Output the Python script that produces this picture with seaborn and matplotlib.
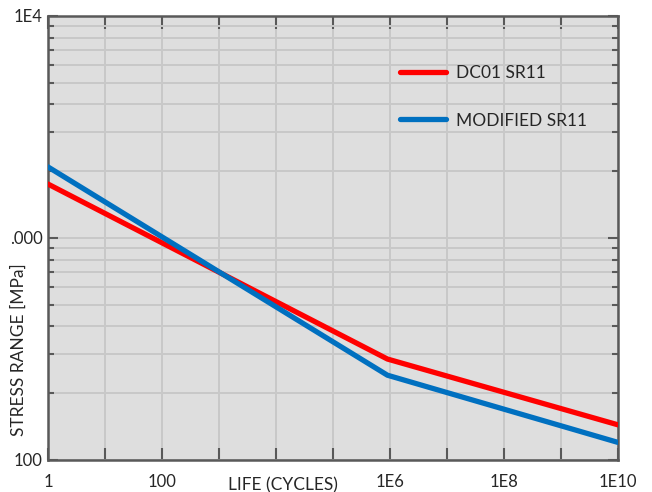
import matplotlib
matplotlib.use("Agg")
import matplotlib.pyplot as plt
import seaborn as sns
import pandas as pd
from matplotlib.ticker import FixedLocator, NullFormatter

# ---- data ----
series_names = ["DC01 SR11", "MODIFIED SR11"]
dc01_life = [1, 9e5, 1e10]
dc01_stress = [1750, 285, 144]
mod_life = [1, 9e5, 1e10]
mod_stress = [2090, 241, 120]

x_ticks = [1, 10, 100, 1e3, 1e4, 1e5, 1e6, 1e7, 1e8, 1e9, 1e10]
x_tick_labels = ["1", "", "100", "", "", "", "1E6", "", "1E8", "", "1E10"]
y_ticks = [100, 1000, 10000]
y_tick_labels = ["100", ".000", "1E4"]
y_minor = [200, 300, 400, 500, 600, 700, 800, 900,
           2000, 3000, 4000, 5000, 6000, 7000, 8000, 9000]

df = pd.DataFrame({
    "life": dc01_life + mod_life,
    "stress": dc01_stress + mod_stress,
    "series": [series_names[0]] * len(dc01_life) + [series_names[1]] * len(mod_life),
})

sns.set_theme(style="white")
plt.rcParams["font.family"] = ["Lato", "DejaVu Sans"]

fig = plt.figure(figsize=(6.52, 4.92), dpi=100)
ax = fig.add_axes([48 / 652, 32 / 492, 570 / 652, 444 / 492])
bg = "#dedede"
ax.set_facecolor(bg)

sns.lineplot(data=df, x="life", y="stress", hue="series",
             palette={series_names[0]: "#ff0000", series_names[1]: "#0070c0"},
             linewidth=3.8, ax=ax, sort=False, zorder=3)

ax.set_xscale("log")
ax.set_yscale("log")
ax.set_xlim(1, 1e10)
ax.set_ylim(100, 1e4)

ax.xaxis.set_major_locator(FixedLocator(x_ticks))
ax.set_xticklabels(x_tick_labels)
ax.xaxis.set_minor_locator(FixedLocator([]))
ax.yaxis.set_major_locator(FixedLocator(y_ticks))
ax.set_yticklabels(y_tick_labels)
ax.yaxis.set_minor_locator(FixedLocator(y_minor))
ax.yaxis.set_minor_formatter(NullFormatter())

spine_c = "#595959"
txt_c = "#262626"
for s in ax.spines.values():
    s.set_color(spine_c)
    s.set_linewidth(1.8)

ax.grid(True, which="major", axis="x", color="#c8c8c8", linewidth=1.4, zorder=0)
ax.grid(True, which="both", axis="y", color="#c8c8c8", linewidth=1.4, zorder=0)
ax.set_axisbelow(True)

ax.tick_params(axis="x", which="major", direction="in", length=9, width=1.5,
               color=spine_c, top=True, bottom=True, labelsize=12,
               labelcolor=txt_c, pad=10)
ax.tick_params(axis="y", which="major", direction="in", length=7, width=1.5,
               color=spine_c, left=True, right=True, labelsize=12,
               labelcolor=txt_c, pad=4)
ax.tick_params(axis="y", which="minor", direction="in", length=4, width=1.5,
               color=spine_c, left=True, right=True)

ax.set_xlabel("LIFE (CYCLES)", fontsize=12.5, color=txt_c)
ax.xaxis.set_label_coords(0.412, -0.038)
ax.xaxis.label.set_va("top")
ax.set_ylabel("STRESS RANGE [MPa]", fontsize=12.5, color=txt_c)
ax.yaxis.set_label_coords(-0.038, 0.248)

handles, labels = ax.get_legend_handles_labels()
leg = ax.legend(handles, labels, loc="upper left", bbox_to_anchor=(0.6175, 0.889),
                frameon=False, fontsize=12.5, handlelength=2.65, handletextpad=0.55,
                labelspacing=1.8, borderaxespad=0, borderpad=0)
for t in leg.get_texts():
    t.set_color(txt_c)
for h in leg.get_lines():
    h.set_linewidth(3.8)

fig.savefig("out.png", dpi=100, facecolor="white")
